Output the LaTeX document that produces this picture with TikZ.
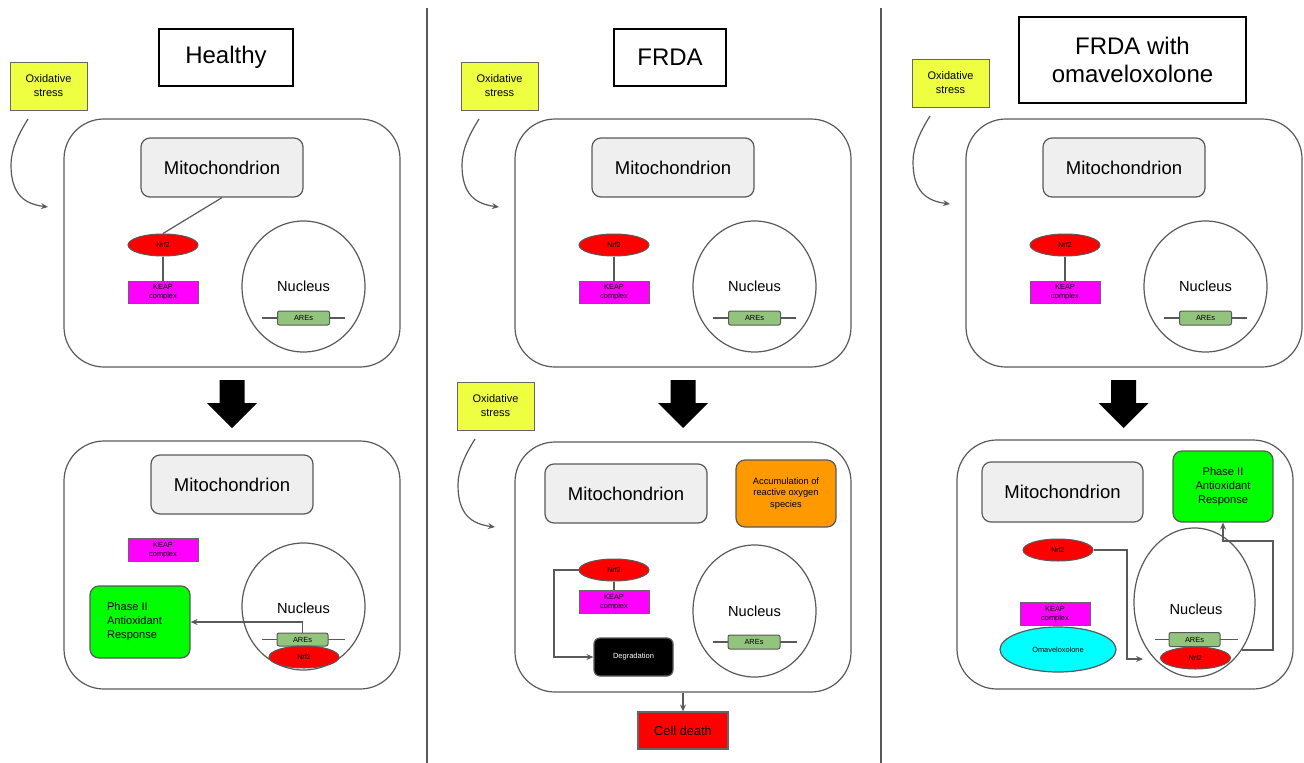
\documentclass[tikz,border=0pt]{standalone}
\usepackage{fontspec}
\setmainfont{Liberation Sans}
\usetikzlibrary{arrows.meta,shapes.geometric}
\definecolor{lc}{HTML}{595959}
\definecolor{bc}{HTML}{666666}
\definecolor{oxy}{HTML}{EEFF41}
\definecolor{mitof}{HTML}{EFEFEF}
\definecolor{nrfred}{HTML}{FF0000}
\definecolor{keapm}{HTML}{FF00FF}
\definecolor{areg}{HTML}{93C47D}
\definecolor{phg}{HTML}{00FF00}
\definecolor{rosor}{HTML}{FF9900}
\definecolor{omac}{HTML}{00FFFF}

\newcommand{\TopPanel}[2]{%
\begin{scope}[shift={(#2,0)}]
 \node[cellbox, minimum height=248pt] (cell#1) at (232,243) {};
 \node[mitobox] (mito#1) at (222,167.5) {Mitochondrion};
 \node[nrfnode] (nrf#1) at (163,245) {Nrf2};
 \node[keapbox] (keap#1) at (163,292.5) {KEAP\\complex};
 \draw[ln] (nrf#1) -- (keap#1);
 \node[nucnode, minimum width=123pt, minimum height=131pt] (nuc#1) at (303.5,286.5) {Nucleus};
 \coordinate (arel#1) at (262,318);
 \coordinate (arer#1) at (345,318);
 \draw[ln] (arel#1) -- (arer#1);
 \node[arebox] (are#1) at (303.5,318) {AREs};
\end{scope}}

\newcommand{\OxStress}[3]{%
\begin{scope}[shift={(#2,#3)}]
 \node[oxbox] (ox#1) at (48.5,86) {Oxidative\\stress};
 \coordinate (oxs#1) at (28,119);
 \coordinate (oxe#1) at (48,207);
 \draw[arr] (oxs#1) .. controls (18,135) and (11,150) .. (11,165) .. controls (11,195) and (25,204) .. (oxe#1);
\end{scope}}

\newcommand{\BigArrow}[1]{%
\begin{scope}[shift={(#1,0)}]
 \fill[black] (-12.5,380) -- (12.5,380) -- (12.5,403) -- (25,403) -- (0,428) -- (-25,403) -- (-12.5,403) -- cycle;
\end{scope}}

\begin{document}
\begin{tikzpicture}[x=1pt,y=-1pt,
 every node/.style={inner sep=0pt, align=center},
 ln/.style={draw=lc, line width=1.2pt},
 arr/.style={draw=lc, line width=1.2pt, -{Stealth[length=7pt,width=6pt,inset=2.5pt]}},
 cellbox/.style={draw=lc, line width=1.2pt, rounded corners=40pt, minimum width=336pt},
 titlebox/.style={draw=black, line width=1.2pt, font=\fontsize{24}{28}\selectfont},
 oxbox/.style={draw=bc, fill=oxy, line width=1pt, minimum width=77pt, minimum height=48pt, font=\fontsize{11}{14}\selectfont},
 mitobox/.style={draw=lc, fill=mitof, rounded corners=9pt, minimum width=162pt, minimum height=59pt, line width=1.2pt, font=\fontsize{18.5}{22}\selectfont},
 nrfnode/.style={ellipse, draw=lc, fill=nrfred, line width=1pt, minimum width=70pt, minimum height=22pt, font=\fontsize{7}{8}\selectfont},
 keapbox/.style={draw=bc, fill=keapm, line width=1pt, minimum width=70pt, minimum height=22.5pt, font=\fontsize{7.4}{9}\selectfont},
 nucnode/.style={ellipse, draw=lc, line width=1.2pt, font=\fontsize{14.6}{17}\selectfont},
 nuctext/.style={font=\fontsize{14.6}{17}\selectfont},
 arebox/.style={draw=lc, fill=areg, rounded corners=2pt, line width=1pt, minimum width=52pt, minimum height=14pt, font=\fontsize{7.4}{9}\selectfont},
 phbox/.style={draw=lc, fill=phg, rounded corners=9pt, line width=1.2pt, minimum width=100pt},
 phtext/.style={font=\fontsize{11.1}{14}\selectfont},
]
\useasboundingbox (0,0) rectangle (1304,763);

% dividers
\coordinate (d1t) at (427,8); \coordinate (d1b) at (427,763);
\coordinate (d2t) at (881,8); \coordinate (d2b) at (881,763);
\draw[ln] (d1t) -- (d1b);
\draw[ln] (d2t) -- (d2b);

% titles
\node[titlebox, minimum width=134pt, minimum height=57pt] (t1) at (226,57.5) {Healthy};
\node[titlebox, minimum width=112pt, minimum height=57pt] (t2) at (670,57.5) {FRDA};
\node[titlebox, minimum width=227pt, minimum height=86pt] (t3) at (1132.5,60) {FRDA with\\omaveloxolone};

% top panels
\TopPanel{1}{0}
\TopPanel{2}{451}
\TopPanel{3}{902}
\draw[ln] (mito1.south) -- (nrf1.north);

\OxStress{1}{0}{0}
\OxStress{2}{451}{0}
\OxStress{3}{902}{-3}
\OxStress{2b}{447}{320}

\BigArrow{232}
\BigArrow{683}
\BigArrow{1123.5}

% ===== Panel 1 bottom =====
\node[cellbox, minimum height=248pt] (cellb1) at (232,565) {};
\node[mitobox] (mitob1) at (232,484.5) {Mitochondrion};
\node[keapbox] (keapb1) at (163,550) {KEAP\\complex};
\node[phbox, minimum height=72pt] (ph1) at (140,622) {};
\node[phtext, align=left] (ph1t) at (134.5,622) {Phase II\\Antioxidant\\Response};
\node[nucnode, minimum width=123pt, minimum height=127pt] (nucb1) at (303.5,606.5) {};
\node[nuctext] (nucb1t) at (303.5,608) {Nucleus};
\coordinate (areb1l) at (262,639.5); \coordinate (areb1r) at (345,639.5);
\draw[ln] (areb1l) -- (areb1r);
\node[arebox, minimum width=51pt, minimum height=13pt] (areb1) at (302.5,639.5) {AREs};
\node[nrfnode] (nrfb1) at (304,657) {Nrf2};
\draw[arr] (areb1.north) |- (ph1.east);

% ===== Panel 2 bottom =====
\node[cellbox, minimum height=250pt] (cellb2) at (683,567) {};
\node[mitobox] (mitob2) at (626,493.5) {Mitochondrion};
\node[draw=lc, fill=rosor, rounded corners=9pt, line width=1.2pt, minimum width=100pt, minimum height=67pt, font=\fontsize{9.3}{11.5}\selectfont] (ros) at (786,493.5) {Accumulation of\\reactive oxygen\\species};
\node[nrfnode] (nrfb2) at (614,570) {Nrf2};
\node[keapbox] (keapb2) at (614,602) {KEAP\\complex};
\draw[ln] (nrfb2) -- (keapb2);
\node[draw=lc, fill=black, text=white, rounded corners=6pt, line width=1.2pt, minimum width=79pt, minimum height=38pt, font=\fontsize{7.5}{9}\selectfont] (deg) at (633.5,657) {Degradation};
\coordinate (nb2k) at (554,570);
\draw[arr] (nrfb2.west) -- (nb2k) |- (deg.west);
\node[nucnode, minimum width=123pt, minimum height=132pt] (nucb2) at (754.5,611) {Nucleus};
\coordinate (areb2l) at (713,642); \coordinate (areb2r) at (797,642);
\draw[ln] (areb2l) -- (areb2r);
\node[arebox] (areb2) at (754,642) {AREs};
\node[draw=bc, fill=nrfred, line width=1.2pt, minimum width=90pt, minimum height=37pt, font=\fontsize{12.8}{15}\selectfont] (cd) at (683,730.5) {Cell death};
\draw[arr] (cellb2.south) -- (cd.north);

% ===== Panel 3 bottom =====
\node[cellbox, minimum height=249pt] (cellb3) at (1125,564.5) {};
\node[mitobox, minimum width=161pt, minimum height=60pt] (mitob3) at (1062.5,492) {Mitochondrion};
\node[phbox, phtext, minimum height=71pt] (ph3) at (1223,486.5) {Phase II\\Antioxidant\\Response};
\node[nrfnode] (nrfu3) at (1058,550) {Nrf2};
\node[keapbox] (keapb3) at (1055,614) {KEAP\\complex};
\node[ellipse, draw=lc, fill=omac, line width=1.2pt, minimum width=116pt, minimum height=45pt, font=\fontsize{7.4}{9}\selectfont] (oma) at (1058,649.5) {Omaveloxolone};
\node[nucnode, minimum width=121pt, minimum height=149pt] (nucb3) at (1194.5,602.5) {};
\node[nuctext] (nucb3t) at (1196,609) {Nucleus};
\coordinate (areb3l) at (1155,639.5); \coordinate (areb3r) at (1238,639.5);
\draw[ln] (areb3l) -- (areb3r);
\node[arebox, minimum width=51pt] (areb3) at (1194.5,639.5) {AREs};
\node[nrfnode] (nrfl3) at (1195.5,658) {Nrf2};
\coordinate (u3k) at (1127,550);
\coordinate (u3e) at (1143,659);
\draw[arr] (nrfu3.east) -- (u3k) |- (u3e);
\coordinate (r3k) at (1273,541);
\draw[arr] (nucb3.-45) -| (r3k) -| (ph3.south);

\end{tikzpicture}
\end{document}
